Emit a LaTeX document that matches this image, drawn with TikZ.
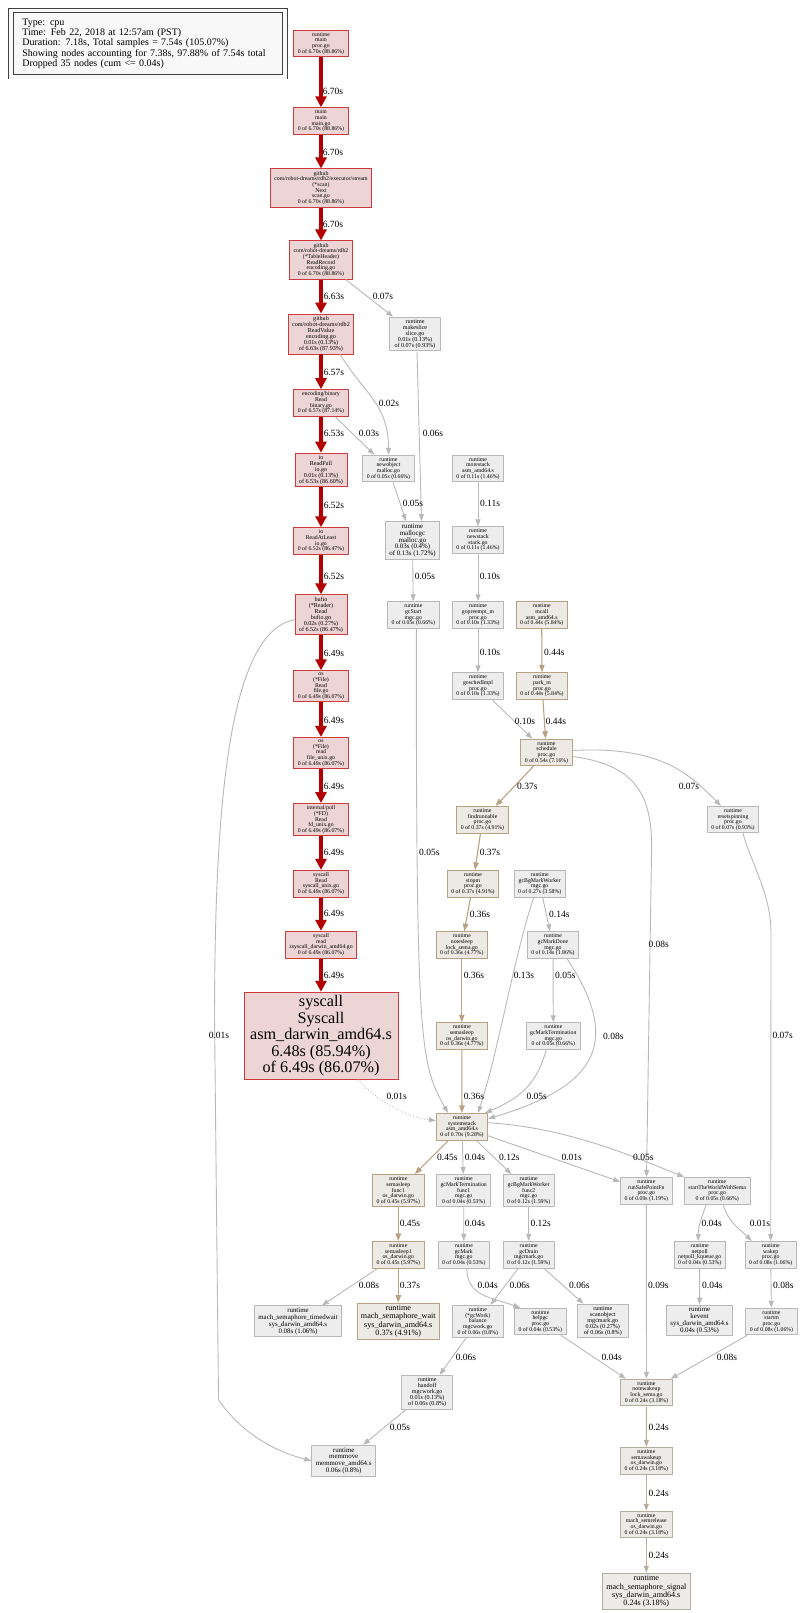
\documentclass[tikz,border=0pt]{standalone}
\usepackage{fontspec}
\setmainfont{Liberation Serif}
\usetikzlibrary{arrows.meta}

\definecolor{hotline}{HTML}{B20000}
\definecolor{hotborder}{HTML}{D03A3A}
\definecolor{hotfill}{HTML}{EDD5D5}
\definecolor{grayline}{HTML}{B8B8B8}
\definecolor{grayfill}{HTML}{EDEDED}
\definecolor{tanline}{HTML}{B8A283}
\definecolor{tanfill}{HTML}{EDE9E4}
\definecolor{warmline}{HTML}{B5AE9F}
\definecolor{warmfill}{HTML}{ECEBE8}
\definecolor{legendfill}{HTML}{F8F8F8}

\begin{document}
\begin{tikzpicture}[x=1pt, y=-1pt,
    fnbox/.style={rectangle, draw, align=center, inner xsep=4pt, inner ysep=2.2pt, minimum width=51pt, line width=0.9pt},
    hotbox/.style={fnbox, draw=hotborder, fill=hotfill},
    graybox/.style={fnbox, draw=grayline, fill=grayfill},
    tanbox/.style={fnbox, draw=tanline, fill=tanfill},
    warmbox/.style={fnbox, draw=warmline, fill=warmfill},
    fA/.style={font=\fontsize{5.8}{5.7}\selectfont},
    fB/.style={font=\fontsize{6.1}{6}\selectfont},
    fC/.style={font=\fontsize{6.9}{6.8}\selectfont},
    fD/.style={font=\fontsize{8.1}{8.2}\selectfont},
    fE/.style={font=\fontsize{16.2}{16.5}\selectfont},
    lbl/.style={font=\fontsize{9.5}{10}\selectfont, inner sep=0pt},
    hotarrow/.style={draw=hotline, line width=4pt, -{Triangle[width=11pt, length=11pt]}},
    grayarrow/.style={draw=grayline, line width=0.9pt, -{Triangle[width=5pt, length=7pt]}},
    tanarrow/.style={draw=tanline, line width=1.1pt, -{Triangle[width=5.5pt, length=7.5pt]}},
    warmarrow/.style={draw=warmline, line width=1pt, -{Triangle[width=5pt, length=7pt]}}]

    \useasboundingbox (0,0) rectangle (800,1613);

    % legend
    \node[draw=black!75, line width=0.8pt, double=legendfill, double distance=3.6pt, fill=legendfill,
          anchor=north west, text width=251pt, inner xsep=11.5pt, minimum height=66.3pt, align=left,
          font=\fontsize{10}{10.4}\selectfont] (legend) at (10.5,10.2)
        {Type: cpu\\Time: Feb 22, 2018 at 12:57am (PST)\\Duration: 7.18s, Total samples = 7.54s (105.07\%)\\Showing nodes accounting for 7.38s, 97.88\% of 7.54s total\\Dropped 35 nodes (cum <= 0.04s)};

    % main call chain
    \node[hotbox, fA] (rtmain) at (321,43.5) {runtime\\main\\proc.go\\0 of 6.70s (88.86\%)};
    \node[hotbox, fA] (mainmain) at (321,121) {main\\main\\main.go\\0 of 6.70s (88.86\%)};
    \node[hotbox, fA] (scannext) at (321,188) {github\\com/robot-dreams/rdb2/executor/stream\\(*scan)\\Next\\scan.go\\0 of 6.70s (88.86\%)};
    \node[hotbox, fA] (readrecord) at (321,260) {github\\com/robot-dreams/rdb2\\(*TableHeader)\\ReadRecord\\encoding.go\\0 of 6.70s (88.86\%)};
    \node[hotbox, fB] (readvalue) at (321,334) {github\\com/robot-dreams/rdb2\\ReadValue\\encoding.go\\0.01s (0.13\%)\\of 6.63s (87.93\%)};
    \node[hotbox, fA] (binread) at (321,403) {encoding/binary\\Read\\binary.go\\0 of 6.57s (87.14\%)};
    \node[hotbox, fB] (readfull) at (321,470) {io\\ReadFull\\io.go\\0.01s (0.13\%)\\of 6.53s (86.60\%)};
    \node[hotbox, fA] (readatleast) at (321,541) {io\\ReadAtLeast\\io.go\\0 of 6.52s (86.47\%)};
    \node[hotbox, fB] (bufread) at (321,614.7) {bufio\\(*Reader)\\Read\\bufio.go\\0.02s (0.27\%)\\of 6.52s (86.47\%)};
    \node[hotbox, fA] (osRead) at (321,686.3) {os\\(*File)\\Read\\file.go\\0 of 6.49s (86.07\%)};
    \node[hotbox, fA] (osread) at (321,753) {os\\(*File)\\read\\file\_unix.go\\0 of 6.49s (86.07\%)};
    \node[hotbox, fA] (pollread) at (321,819.7) {internal/poll\\(*FD)\\Read\\fd\_unix.go\\0 of 6.49s (86.07\%)};
    \node[hotbox, fA] (sysRead) at (321,883.7) {syscall\\Read\\syscall\_unix.go\\0 of 6.49s (86.07\%)};
    \node[hotbox, fA] (sysread) at (321,944.7) {syscall\\read\\zsyscall\_darwin\_amd64.go\\0 of 6.49s (86.07\%)};
    \node[hotbox, fE, minimum width=154pt, minimum height=87pt] (syscall) at (321,1035.7) {syscall\\Syscall\\asm\_darwin\_amd64.s\\6.48s (85.94\%)\\of 6.49s (86.07\%)};

    % allocation and stack growth
    \node[graybox, fB] (makeslice) at (415,334) {runtime\\makeslice\\slice.go\\0.01s (0.13\%)\\of 0.07s (0.93\%)};
    \node[graybox, fA] (newobject) at (388.5,468.5) {runtime\\newobject\\malloc.go\\0 of 0.05s (0.66\%)};
    \node[graybox, fA] (morestack) at (478,468.5) {runtime\\morestack\\asm\_amd64.s\\0 of 0.11s (1.46\%)};
    \node[graybox, fC] (mallocgc) at (412.5,540.5) {runtime\\mallocgc\\malloc.go\\0.03s (0.4\%)\\of 0.13s (1.72\%)};
    \node[graybox, fA] (newstack) at (478,540) {runtime\\newstack\\stack.go\\0 of 0.11s (1.46\%)};
    \node[graybox, fA] (gcstart) at (413.3,615) {runtime\\gcStart\\mgc.go\\0 of 0.05s (0.66\%)};
    \node[graybox, fA] (gopreempt) at (478,615) {runtime\\gopreempt\_m\\proc.go\\0 of 0.10s (1.33\%)};
    \node[tanbox, fA] (mcall) at (541.7,615) {runtime\\mcall\\asm\_amd64.s\\0 of 0.44s (5.84\%)};
    \node[graybox, fA] (goschedimpl) at (478,686) {runtime\\goschedImpl\\proc.go\\0 of 0.10s (1.33\%)};
    \node[tanbox, fA] (parkm) at (542,686) {runtime\\park\_m\\proc.go\\0 of 0.44s (5.84\%)};

    % scheduler
    \node[tanbox, fA] (schedule) at (546.5,752.5) {runtime\\schedule\\proc.go\\0 of 0.54s (7.16\%)};
    \node[graybox, fA] (resetspin) at (733,819.6) {runtime\\resetspinning\\proc.go\\0 of 0.07s (0.93\%)};
    \node[tanbox, fA] (findrunnable) at (482.5,819.7) {runtime\\findrunnable\\proc.go\\0 of 0.37s (4.91\%)};
    \node[tanbox, fA] (stopm) at (473,883.7) {runtime\\stopm\\proc.go\\0 of 0.37s (4.91\%)};
    \node[graybox, fA] (bgmark) at (539.7,883.7) {runtime\\gcBgMarkWorker\\mgc.go\\0 of 0.27s (3.58\%)};
    \node[tanbox, fA] (notesleep) at (461.8,945) {runtime\\notesleep\\lock\_sema.go\\0 of 0.36s (4.77\%)};
    \node[graybox, fA] (markdone) at (553,945) {runtime\\gcMarkDone\\mgc.go\\0 of 0.14s (1.86\%)};
    \node[tanbox, fA] (semasleep) at (461.8,1036) {runtime\\semasleep\\os\_darwin.go\\0 of 0.36s (4.77\%)};
    \node[graybox, fA] (markterm) at (553.3,1036) {runtime\\gcMarkTermination\\mgc.go\\0 of 0.05s (0.66\%)};
    \node[tanbox, fA] (systemstack) at (462,1126.7) {runtime\\systemstack\\asm\_amd64.s\\0 of 0.70s (9.28\%)};

    % below systemstack
    \node[tanbox, fA] (semasleepf) at (398.3,1190.7) {runtime\\semasleep\\func1\\os\_darwin.go\\0 of 0.45s (5.97\%)};
    \node[graybox, fA] (marktermf) at (463.7,1190.7) {runtime\\gcMarkTermination\\func1\\mgc.go\\0 of 0.04s (0.53\%)};
    \node[graybox, fA] (bgmarkf) at (528.7,1190.7) {runtime\\gcBgMarkWorker\\func2\\mgc.go\\0 of 0.12s (1.59\%)};
    \node[graybox, fA] (safepoint) at (646.3,1190.8) {runtime\\runSafePointFn\\proc.go\\0 of 0.09s (1.19\%)};
    \node[graybox, fA] (starttw) at (717.2,1190.7) {runtime\\startTheWorldWithSema\\proc.go\\0 of 0.05s (0.66\%)};
    \node[tanbox, fA] (semasleep1) at (398.3,1254.7) {runtime\\semasleep1\\os\_darwin.go\\0 of 0.45s (5.97\%)};
    \node[graybox, fA] (gcmark) at (463.8,1254.7) {runtime\\gcMark\\mgc.go\\0 of 0.04s (0.53\%)};
    \node[graybox, fA] (gcdrain) at (528.7,1254.7) {runtime\\gcDrain\\mgcmark.go\\0 of 0.12s (1.59\%)};
    \node[graybox, fA] (netpoll) at (699.7,1254.7) {runtime\\netpoll\\netpoll\_kqueue.go\\0 of 0.04s (0.53\%)};
    \node[graybox, fA] (wakep) at (770.7,1254.7) {runtime\\wakep\\proc.go\\0 of 0.08s (1.06\%)};
    \node[graybox, fC] (timedwait) at (298,1321.3) {runtime\\mach\_semaphore\_timedwait\\sys\_darwin\_amd64.s\\0.08s (1.06\%)};
    \node[tanbox, fD] (semwait) at (398.3,1321.2) {runtime\\mach\_semaphore\_wait\\sys\_darwin\_amd64.s\\0.37s (4.91\%)};
    \node[graybox, fA] (balance) at (477.8,1321.5) {runtime\\(*gcWork)\\balance\\mgcwork.go\\0 of 0.06s (0.8\%)};
    \node[graybox, fA] (helpgc) at (540.3,1321.5) {runtime\\helpgc\\proc.go\\0 of 0.04s (0.53\%)};
    \node[graybox, fB] (scanobject) at (602.8,1321) {runtime\\scanobject\\mgcmark.go\\0.02s (0.27\%)\\of 0.06s (0.8\%)};
    \node[graybox, fC] (kevent) at (699.5,1320.5) {runtime\\kevent\\sys\_darwin\_amd64.s\\0.04s (0.53\%)};
    \node[graybox, fA] (startm) at (771.5,1321.5) {runtime\\startm\\proc.go\\0 of 0.08s (1.06\%)};
    \node[graybox, fB] (handoff) at (427.2,1392.2) {runtime\\handoff\\mgcwork.go\\0.01s (0.13\%)\\of 0.06s (0.8\%)};
    \node[warmbox, fA] (notewakeup) at (646.5,1392.5) {runtime\\notewakeup\\lock\_sema.go\\0 of 0.24s (3.18\%)};
    \node[graybox, fC] (memmove) at (343.7,1460.7) {runtime\\memmove\\memmove\_amd64.s\\0.06s (0.8\%)};
    \node[warmbox, fA] (semawakeup) at (646.3,1460.7) {runtime\\semawakeup\\os\_darwin.go\\0 of 0.24s (3.18\%)};
    \node[warmbox, fA] (semrelease) at (646.3,1524.5) {runtime\\mach\_semrelease\\os\_darwin.go\\0 of 0.24s (3.18\%)};
    \node[warmbox, fD] (semsignal) at (646.3,1591.3) {runtime\\mach\_semaphore\_signal\\sys\_darwin\_amd64.s\\0.24s (3.18\%)};

    % hot path
    \draw[hotarrow] (rtmain) -- (mainmain) node[lbl] at (333,91) {6.70s};
    \draw[hotarrow] (mainmain) -- (scannext) node[lbl] at (333,152.3) {6.70s};
    \draw[hotarrow] (scannext) -- (readrecord) node[lbl] at (333,224) {6.70s};
    \draw[hotarrow] (readrecord) -- (readvalue) node[lbl] at (334,296) {6.63s};
    \draw[hotarrow] (readvalue) -- (binread) node[lbl] at (334,372.7) {6.57s};
    \draw[hotarrow] (binread) -- (readfull) node[lbl] at (334,433) {6.53s};
    \draw[hotarrow] (readfull) -- (readatleast) node[lbl] at (334,505) {6.52s};
    \draw[hotarrow] (readatleast) -- (bufread) node[lbl] at (334,576.7) {6.52s};
    \draw[hotarrow] (bufread) -- (osRead) node[lbl] at (334,653) {6.49s};
    \draw[hotarrow] (osRead) -- (osread) node[lbl] at (334,720) {6.49s};
    \draw[hotarrow] (osread) -- (pollread) node[lbl] at (334,786.7) {6.49s};
    \draw[hotarrow] (pollread) -- (sysRead) node[lbl] at (334,852.7) {6.49s};
    \draw[hotarrow] (sysRead) -- (sysread) node[lbl] at (334,913.3) {6.49s};
    \draw[hotarrow] (sysread) -- (syscall) node[lbl] at (334,975.3) {6.49s};

    % allocation edges
    \draw[grayarrow] (readrecord) -- (makeslice) node[lbl] at (383,296) {0.07s};
    \draw[grayarrow] ([xshift=19pt]readvalue.south) .. controls +(25,40) and +(0,-50) .. (newobject.north) node[lbl] at (389,403) {0.02s};
    \draw[grayarrow] (binread) -- (newobject) node[lbl] at (369,433) {0.03s};
    \draw[grayarrow] ([xshift=2pt]makeslice.south) -- ([xshift=9pt]mallocgc.north) node[lbl] at (433,433) {0.06s};
    \draw[grayarrow] (newobject) -- (mallocgc) node[lbl] at (413,503) {0.05s};
    \draw[grayarrow] (morestack) -- (newstack) node[lbl] at (490,503) {0.11s};
    \draw[grayarrow] (mallocgc) -- (gcstart) node[lbl] at (425,576.7) {0.05s};
    \draw[grayarrow] (newstack) -- (gopreempt) node[lbl] at (490,576.7) {0.10s};
    \draw[grayarrow] (gopreempt) -- (goschedimpl) node[lbl] at (490,652) {0.10s};
    \draw[tanarrow] (mcall) -- (parkm) node[lbl] at (554.3,652) {0.44s};
    \draw[grayarrow] (goschedimpl) -- (schedule) node[lbl] at (525,721) {0.10s};
    \draw[tanarrow] (parkm) -- (schedule) node[lbl] at (556,721) {0.44s};
    \draw[grayarrow] ([yshift=-5pt]bufread.west) .. controls +(-65,12) and +(0,-220) .. ++(-80,400)
        -- ++(4,380) .. controls +(20,30) and +(-40,-10) .. (memmove.west) node[lbl] at (219,1035.5) {0.01s};

    % scheduler edges
    \draw[tanarrow] (schedule) -- (findrunnable) node[lbl] at (527.3,786) {0.37s};
    \draw[grayarrow] ([yshift=2pt]schedule.east) .. controls +(90,-5) and +(-30,-30) .. ([xshift=-12pt]resetspin.north) node[lbl] at (689,786) {0.07s};
    \draw[grayarrow] ([yshift=-4pt]schedule.east) .. controls +(60,8) and +(0,-55) .. ++(79,90) -- (safepoint) node[lbl] at (658.7,944.3) {0.08s};
    \draw[tanarrow] (findrunnable) -- (stopm) node[lbl] at (490,852.7) {0.37s};
    \draw[tanarrow] (stopm) -- (notesleep) node[lbl] at (480,914) {0.36s};
    \draw[tanarrow] (notesleep) -- (semasleep) node[lbl] at (474,975) {0.36s};
    \draw[grayarrow] (bgmark) -- (markdone) node[lbl] at (559.3,914) {0.14s};
    \draw[grayarrow] (markdone) -- (markterm) node[lbl] at (565.3,975) {0.05s};
    \draw[grayarrow] ([xshift=10pt]resetspin.south) .. controls +(8,30) and +(0,-40) .. ++(28,100) -- (wakep) node[lbl] at (782.7,1035.7) {0.07s};

    % into systemstack
    \draw[grayarrow] ([xshift=3pt]gcstart.south) .. controls +(0,420) and +(-28,-50) .. ([xshift=-14pt]systemstack.north) node[lbl] at (429.3,852.7) {0.05s};
    \draw[grayarrow] ([xshift=-6pt]bgmark.south) .. controls +(-20,60) and +(20,-60) .. ([xshift=16pt]systemstack.north) node[lbl] at (524,975) {0.13s};
    \draw[grayarrow] ([xshift=14pt]markdone.south) .. controls +(60,90) and +(100,-30) .. ([yshift=8pt]systemstack.east) node[lbl] at (613.3,1036) {0.08s};
    \draw[grayarrow] ([xshift=-7pt]markterm.south) .. controls +(-10,35) and +(35,-15) .. ([xshift=-3pt]systemstack.north east) node[lbl] at (536.7,1096.7) {0.05s};
    \draw[tanarrow] (semasleep) -- (systemstack) node[lbl] at (474,1096.7) {0.36s};
    \draw[grayarrow, dotted] ([xshift=37pt]syscall.south) .. controls +(20,22) and +(-30,-4) .. ([yshift=6pt]systemstack.west) node[lbl] at (396.7,1096.7) {0.01s};

    % out of systemstack
    \draw[tanarrow] (systemstack) -- (semasleepf) node[lbl] at (447.3,1157.7) {0.45s};
    \draw[grayarrow] (systemstack) -- (marktermf) node[lbl] at (475,1157.7) {0.04s};
    \draw[grayarrow] (systemstack) -- (bgmarkf) node[lbl] at (509.3,1157.7) {0.12s};
    \draw[grayarrow] (systemstack) -- (safepoint) node[lbl] at (571.7,1157.7) {0.01s};
    \draw[grayarrow] ([yshift=4pt]systemstack.east) .. controls +(80,5) and +(-50,-20) .. ([xshift=-33pt]starttw.north) node[lbl] at (643.3,1157.7) {0.05s};
    \draw[tanarrow] (semasleepf) -- (semasleep1) node[lbl] at (410,1223.3) {0.45s};
    \draw[grayarrow] (marktermf) -- (gcmark) node[lbl] at (475,1223.3) {0.04s};
    \draw[grayarrow] (bgmarkf) -- (gcdrain) node[lbl] at (540.7,1223.3) {0.12s};
    \draw[grayarrow] ([xshift=-11pt]starttw.south) .. controls +(-5,15) and +(0,-15) .. ([xshift=-1.5pt]netpoll.north) node[lbl] at (711.7,1223.3) {0.04s};
    \draw[grayarrow] ([xshift=6pt]starttw.south) .. controls +(5,18) and +(-12,-12) .. ([xshift=-19pt]wakep.north) node[lbl] at (760,1223.3) {0.01s};

    % leaves
    \draw[grayarrow] (semasleep1) -- (timedwait) node[lbl] at (369,1285) {0.08s};
    \draw[tanarrow] (semasleep1) -- (semwait) node[lbl] at (410,1285) {0.37s};
    \draw[grayarrow] ([xshift=3pt]gcmark.south) .. controls +(0,28) and +(-28,-10) .. ([xshift=-20pt]helpgc.north) node[lbl] at (487.7,1285) {0.04s};
    \draw[grayarrow] (gcdrain) -- (balance) node[lbl] at (519.7,1285) {0.06s};
    \draw[grayarrow] (gcdrain) -- (scanobject) node[lbl] at (579.3,1285) {0.06s};
    \draw[grayarrow] (safepoint) -- (notewakeup) node[lbl] at (658.3,1285) {0.09s};
    \draw[grayarrow] (netpoll) -- (kevent) node[lbl] at (712.3,1285.7) {0.04s};
    \draw[grayarrow] (wakep) -- (startm) node[lbl] at (783.3,1285.7) {0.08s};
    \draw[grayarrow] (balance) -- (handoff) node[lbl] at (466,1357.7) {0.06s};
    \draw[grayarrow] (helpgc) -- (notewakeup) node[lbl] at (611.7,1357.7) {0.04s};
    \draw[grayarrow] (startm) -- (notewakeup) node[lbl] at (727,1357.7) {0.08s};
    \draw[grayarrow] (handoff) -- (memmove) node[lbl] at (400,1427.7) {0.05s};
    \draw[warmarrow] (notewakeup) -- (semawakeup) node[lbl] at (658.7,1427.7) {0.24s};
    \draw[warmarrow] (semawakeup) -- (semrelease) node[lbl] at (658.7,1493.7) {0.24s};
    \draw[warmarrow] (semrelease) -- (semsignal) node[lbl] at (658.7,1555.3) {0.24s};
\end{tikzpicture}
\end{document}
